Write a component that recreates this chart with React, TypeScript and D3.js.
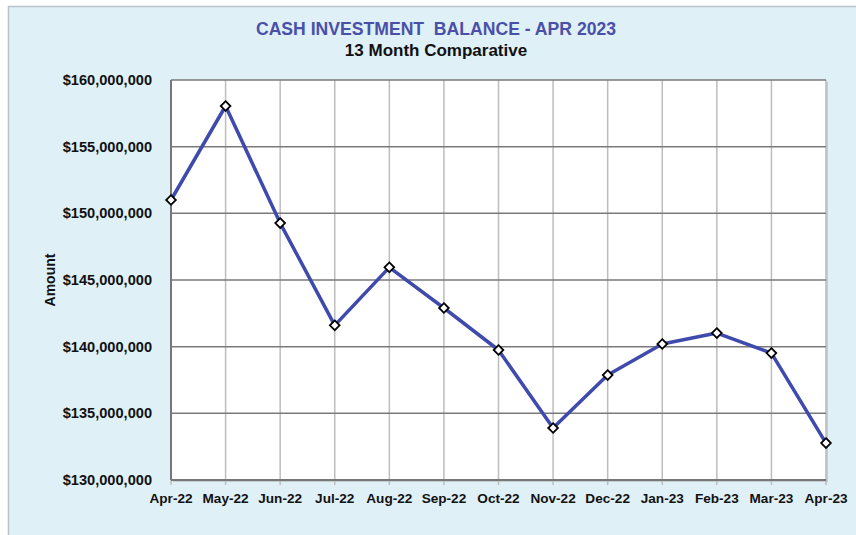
import { useEffect, useRef } from "react"
import * as d3 from "d3"

const months = [
  "Apr-22", "May-22", "Jun-22", "Jul-22", "Aug-22", "Sep-22", "Oct-22",
  "Nov-22", "Dec-22", "Jan-23", "Feb-23", "Mar-23", "Apr-23",
]
const balances = [
  151000000, 158050000, 149270000, 141600000, 145950000, 142900000, 139750000,
  133900000, 137870000, 140200000, 141020000, 139520000, 132770000,
]
const yTicks = [130000000, 135000000, 140000000, 145000000, 150000000, 155000000, 160000000]

const App = () => {
  const ref = useRef<SVGSVGElement>(null)

  useEffect(() => {
    const W = 856
    const H = 535
    const margin = { top: 80, right: 30, bottom: 55, left: 171 }
    const width = W - margin.left - margin.right
    const height = H - margin.top - margin.bottom

    const root = d3.select(ref.current)
    root.selectAll("*").remove()
    const font = "'Liberation Sans', Arial, sans-serif"

    // background panel
    root.append("rect").attr("width", W).attr("height", H).attr("fill", "#ffffff")
    root
      .append("rect")
      .attr("x", 8.5)
      .attr("y", 6.5)
      .attr("width", W)
      .attr("height", H)
      .attr("fill", "#dff0f7")
      .attr("stroke", "#b8c4c8")
      .attr("stroke-width", 1.5)

    root
      .append("text")
      .text("CASH INVESTMENT  BALANCE - APR 2023")
      .attr("x", 436)
      .attr("y", 35)
      .attr("text-anchor", "middle")
      .attr("font-family", font)
      .attr("font-weight", "bold")
      .attr("font-size", "17.6px")
      .attr("fill", "#4a50a8")
      .style("white-space", "pre")
    root
      .append("text")
      .text("13 Month Comparative")
      .attr("x", 436)
      .attr("y", 56)
      .attr("text-anchor", "middle")
      .attr("font-family", font)
      .attr("font-weight", "bold")
      .attr("font-size", "17px")
      .attr("fill", "#111")

    const svg = root.append("g").attr("transform", "translate(" + margin.left + "," + margin.top + ")")

    const x = d3.scalePoint().domain(months).range([0, width])
    const y = d3.scaleLinear().domain([130000000, 160000000]).range([height, 0])

    // plot shadow + plot area
    svg
      .append("rect")
      .attr("x", 2)
      .attr("y", 2)
      .attr("width", width)
      .attr("height", height)
      .attr("fill", "#c6ccd0")
    svg.append("rect").attr("width", width).attr("height", height).attr("fill", "#ffffff")

    // vertical grid
    svg
      .selectAll(".vg")
      .data(months)
      .enter()
      .append("line")
      .attr("x1", (d) => x(d)!)
      .attr("x2", (d) => x(d)!)
      .attr("y1", 0)
      .attr("y2", height + 5)
      .attr("stroke", "#bdbdbd")
      .attr("stroke-width", 1.5)

    // horizontal grid
    svg
      .selectAll(".hg")
      .data(yTicks)
      .enter()
      .append("line")
      .attr("x1", 0)
      .attr("x2", width)
      .attr("y1", (d) => y(d))
      .attr("y2", (d) => y(d))
      .attr("stroke", "#7a7a7a")
      .attr("stroke-width", 1.5)

    // axes lines
    svg.append("line").attr("x1", 0).attr("x2", 0).attr("y1", 0).attr("y2", height).attr("stroke", "#777").attr("stroke-width", 2)
    svg.append("line").attr("x1", 0).attr("x2", width).attr("y1", height).attr("y2", height).attr("stroke", "#777").attr("stroke-width", 2)

    // y labels
    svg
      .selectAll(".yl")
      .data(yTicks)
      .enter()
      .append("text")
      .text((d) => "$" + d3.format(",")(d))
      .attr("x", -19)
      .attr("y", (d) => y(d) + 5)
      .attr("text-anchor", "end")
      .attr("font-family", font)
      .attr("font-weight", "bold")
      .attr("font-size", "14.6px")
      .attr("fill", "#111")

    // x labels
    svg
      .selectAll(".xl")
      .data(months)
      .enter()
      .append("text")
      .text((d) => d)
      .attr("x", (d) => x(d)!)
      .attr("y", height + 23)
      .attr("text-anchor", "middle")
      .attr("font-family", font)
      .attr("font-weight", "bold")
      .attr("font-size", "13.6px")
      .attr("fill", "#111")

    root
      .append("text")
      .text("Amount")
      .attr("transform", "translate(55,280) rotate(-90)")
      .attr("text-anchor", "middle")
      .attr("font-family", font)
      .attr("font-weight", "bold")
      .attr("font-size", "14px")
      .attr("fill", "#111")

    // line
    const line = d3
      .line<number>()
      .x((_, i) => x(months[i])!)
      .y((d) => y(d))
    svg
      .append("path")
      .datum(balances)
      .attr("d", line)
      .attr("fill", "none")
      .attr("stroke", "#3f4aad")
      .attr("stroke-width", 3.5)
      .attr("stroke-linejoin", "round")

    // diamond markers
    const diamond = d3.symbol().type(d3.symbolDiamond2).size(60)
    svg
      .selectAll(".pt")
      .data(balances)
      .enter()
      .append("path")
      .attr("d", diamond)
      .attr("transform", (d, i) => "translate(" + x(months[i]) + "," + y(d) + ")")
      .attr("fill", "#ffffff")
      .attr("stroke", "#000")
      .attr("stroke-width", 1.8)
  }, [])

  return (
    <svg
      ref={ref}
      width={856}
      height={535}
      style={{ position: "absolute", left: 0, top: 0, display: "block" }}
    />
  )
}

export default App
